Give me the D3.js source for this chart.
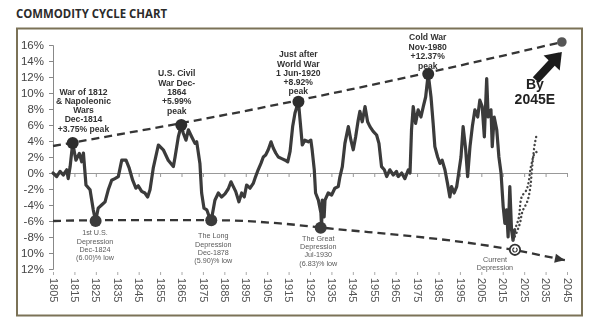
<!DOCTYPE html>
<html><head><meta charset="utf-8">
<script src="https://cdn.jsdelivr.net/npm/d3@7/dist/d3.min.js"></script>
<style>
html,body{margin:0;padding:0;background:#fff;}
svg{display:block;}
</style></head>
<body>
<svg id="chart" width="600" height="330"></svg>
<script>
// ---------------- DATA ----------------
const title = "COMMODITY CYCLE CHART";
const yTickValues = [-12,-10,-8,-6,-4,-2,0,2,4,6,8,10,12,14,16];
const yTickLabels = ["12%","10%","-8%","-6%","-4%","-2%","0%","2%","4%","6%","8%","10%","12%","14%","16%"];
const xTickYears = [1805,1815,1825,1835,1845,1855,1865,1875,1885,1895,1905,1915,1925,1935,1945,1955,1965,1975,1985,1995,2005,2015,2025,2035,2045];

const years = [1805.0,1806.7,1808.3,1809.8,1811.4,1812.1,1813.0,1814.2,1815.7,1817.3,1818.4,1819.2,1820.4,1822.3,1823.8,1824.9,1826.1,1827.7,1829.3,1830.8,1832.4,1833.9,1835.5,1837.1,1839.1,1840.6,1842.2,1843.7,1844.8,1846.4,1847.9,1849.2,1850.3,1851.8,1854.2,1856.5,1858.8,1861.2,1862.0,1863.5,1864.9,1865.8,1867.1,1868.2,1869.8,1871.3,1872.1,1873.6,1874.4,1875.5,1876.8,1878.0,1878.9,1879.8,1880.6,1882.2,1883.7,1885.3,1886.8,1888.1,1889.2,1890.3,1891.8,1893.1,1894.3,1895.4,1897.0,1898.5,1899.6,1900.8,1902.1,1903.2,1904.3,1905.5,1906.8,1907.9,1909.0,1910.2,1911.8,1913.4,1914.6,1915.7,1916.9,1918.0,1919.6,1920.3,1921.4,1922.6,1924.2,1925.4,1926.0,1927.0,1927.6,1928.9,1930.1,1930.4,1930.7,1931.6,1932.0,1933.5,1935.1,1936.6,1938.2,1939.0,1940.1,1941.3,1942.9,1944.1,1945.2,1946.3,1947.5,1948.3,1949.4,1950.7,1951.9,1953.0,1954.5,1956.1,1957.2,1958.4,1959.7,1960.8,1962.3,1963.9,1965.4,1966.2,1967.8,1969.3,1970.9,1971.7,1972.4,1973.2,1974.3,1975.5,1976.8,1977.9,1979.0,1980.2,1981.5,1982.5,1983.3,1984.6,1985.7,1986.7,1988.0,1989.2,1990.3,1991.1,1992.3,1993.5,1994.2,1995.5,1996.5,1997.7,1998.6,1999.7,2000.8,2002.0,2003.3,2004.3,2005.4,2006.4,2007.5,2008.2,2009.5,2010.1,2011.0,2012.2,2013.2,2014.2,2015.2,2016.0,2016.8,2017.5,2018.3,2019.1,2019.8,2020.6];
const values = [0.0,-0.45,0.2,-0.25,0.4,-0.7,0.8,3.75,1.6,2.45,1.4,2.5,-1.5,-2.1,-4.6,-6.0,-4.4,-4.0,-3.6,-2.1,-0.9,-0.7,-0.45,1.6,1.6,0.6,-0.9,-1.9,-1.6,-2.3,-2.5,-3.0,-2.1,0.6,3.5,2.9,1.6,0.8,2.0,4.5,5.99,5.0,4.1,5.4,4.5,3.7,3.9,1.2,-2.5,-4.4,-4.6,-5.5,-5.9,-4.6,-3.4,-2.5,-3.0,-2.6,-2.0,-1.1,-1.7,-2.3,-3.6,-2.5,-3.0,-1.5,-1.9,-1.3,-0.45,0.4,1.2,2.0,2.25,2.9,3.9,3.1,2.5,2.0,1.8,1.6,1.4,2.7,5.8,7.5,8.92,6.8,3.5,4.1,3.9,4.1,2.9,0.4,-2.5,-3.4,-5.0,-6.83,-3.4,-5.5,-3.4,-2.5,-2.75,-1.9,-1.7,-0.45,0.8,3.7,5.8,4.1,2.9,4.5,6.6,7.7,6.4,8.3,6.4,5.8,5.2,4.75,3.7,0.8,0.4,-0.45,0.4,-0.25,0.2,-0.45,0.0,-0.7,0.4,0.0,5.4,8.3,6.2,7.9,7.0,8.3,9.5,12.37,9.5,6.2,3.3,2.0,1.2,1.6,0.4,-1.3,-3.0,-1.7,-2.5,-1.7,-0.45,2.0,5.8,2.9,-0.45,3.3,5.8,7.9,7.0,9.1,8.3,4.5,11.8,7.0,7.9,3.3,7.0,5.4,2.0,0.0,-4.2,-6.3,-4.6,-8.0,-1.7,-7.1,-8.4,-7.1];

// projected (dotted) paths
const projAYears = [2019.8,2021.4,2023.0,2024.5,2026.1,2027.7,2028.5,2029.2,2030.0,2030.8];
const projAValues = [-8.4,-7.5,-6.3,-4.6,-3.8,-2.1,0.0,2.0,3.7,4.75];
const projBYears = [2020.6,2022.2,2023.8,2026.1,2028.5,2030.0,2031.6];
const projBValues = [-7.1,-5.9,-3.0,-2.1,1.2,2.5,2.7];

// trend (dashed) lines
const upperYears = [1805,1892.3,1981,2042.6];
const upperValues = [3.375,7.625,12.6,16.375];
const lowerYears = [1805,1826.9,1879.2,1911,1929.6,2019.7,2044];
const lowerValues = [-6.0,-5.9,-5.9,-6.3,-6.8,-9.6,-10.9];

// peaks and lows
const peakYears = [1814.2,1864.9,1919.6,1980.2];
const peakValues = [3.75,5.99,8.92,12.37];
const peakLabels = [
  ["War of 1812","& Napoleonic","Wars","Dec-1814","+3.75% peak"],
  ["U.S. Civil","War Dec-","1864","+5.99%","peak"],
  ["Just after","World War","1 Jun-1920","+8.92%","peak"],
  ["Cold War","Nov-1980","+12.37%","peak"]
];
const lowYears = [1824.9,1878.9,1930.0];
const lowValues = [-6.0,-5.9,-6.83];
const lowLabels = [
  ["1st U.S.","Depression","Dec-1824","(6.00)% low"],
  ["The Long","Depression","Dec-1878","(5.90)% low"],
  ["The Great","Depression","Jul-1930","(6.83)% low"]
];
const currentYear = [2020.7];
const currentValue = [-9.6];
const currentLabel = ["Current","Depression"];
const targetYear = [2042.6];
const targetValue = [16.375];
const targetLabel = ["By","2045E"];

// ---------------- CHART ----------------
const svg = d3.select("#chart");
const x = d3.scaleLinear().domain([1805,2045]).range([53,567]);
const y = d3.scaleLinear().domain([-12,16]).range([269,45]);
const dark = "#353535";

svg.append("rect").attr("width",600).attr("height",330).attr("fill","#fff");

// title
svg.append("text").attr("x",16).attr("y",17.5)
  .attr("font-family","'Open Sans', 'DejaVu Sans', sans-serif")
  .attr("font-weight","bold").attr("font-size",12)
  .attr("textLength",151).attr("lengthAdjust","spacingAndGlyphs")
  .attr("fill","#2b2b2b").text(title);

// frame
svg.append("rect").attr("x",17).attr("y",28.5).attr("width",565).attr("height",287)
  .attr("fill","none").attr("stroke","#7b7257").attr("stroke-width",2);

const g = svg.append("g").attr("filter","url(#soft)");
const defs = svg.append("defs");
defs.append("filter").attr("id","soft").append("feGaussianBlur").attr("stdDeviation",0.35);

// y axis
const yAxis = d3.axisLeft(y).tickValues(yTickValues)
  .tickFormat((d,i)=>yTickLabels[i]).tickSize(4).tickPadding(5);
const ya = g.append("g").attr("transform","translate(53,0)").call(yAxis);
ya.select(".domain").attr("stroke","#888");
ya.selectAll(".tick line").attr("stroke","#888");
ya.selectAll("text").attr("font-family","'Liberation Sans', Arial, sans-serif")
  .attr("font-size",11.5).attr("fill","#444");

// zero axis with ticks
const xAxis0 = d3.axisBottom(x).tickValues(xTickYears).tickSize(4).tickFormat("");
const xa0 = g.append("g").attr("transform",`translate(0,${y(0)})`).call(xAxis0);
xa0.select(".domain").attr("stroke","#999");
xa0.selectAll(".tick line").attr("stroke","#999");

// bottom labels
const xAxisB = d3.axisBottom(x).tickValues(xTickYears).tickSize(3).tickFormat(d3.format("d"));
const xb = g.append("g").attr("transform",`translate(0,${y(-12)+3})`).call(xAxisB);
xb.select(".domain").remove();
xb.selectAll(".tick line").attr("stroke","#aaa");
xb.selectAll("text").attr("font-family","'Liberation Sans', Arial, sans-serif")
  .attr("font-size",11).attr("fill","#555")
  .attr("transform","rotate(90)").attr("text-anchor","start")
  .attr("x",6).attr("y",0).attr("dy","0.35em");

// dashed trends
const trendLine = d3.line().x(d=>x(d[0])).y(d=>y(d[1])).curve(d3.curveMonotoneX);
g.append("path").datum(upperYears.map((d,i)=>[d,upperValues[i]]))
  .attr("d",trendLine).attr("fill","none").attr("stroke",dark)
  .attr("stroke-width",2.3).attr("stroke-dasharray","8,5");
g.append("path").datum(lowerYears.map((d,i)=>[d,lowerValues[i]]))
  .attr("d",trendLine).attr("fill","none").attr("stroke",dark)
  .attr("stroke-width",2.3).attr("stroke-dasharray","8,5");

// lower arrowhead
{
  const n = lowerYears.length;
  const x1 = x(lowerYears[n-2]), y1 = y(lowerValues[n-2]);
  const x2 = x(lowerYears[n-1]), y2 = y(lowerValues[n-1]);
  const ang = Math.atan2(y2-y1,x2-x1)*180/Math.PI;
  g.append("path").attr("d","M0,0 L-10,-4.5 L-10,4.5 Z").attr("fill",dark)
    .attr("transform",`translate(${x2},${y2}) rotate(${ang})`);
}

// main series
const line = d3.line().x(d=>x(d[0])).y(d=>y(d[1]));
g.append("path").datum(years.map((d,i)=>[d,values[i]]))
  .attr("d",line).attr("fill","none").attr("stroke","#3a3a3a")
  .attr("stroke-width",3.2).attr("stroke-linejoin","round").attr("stroke-linecap","round");

// projections
[[projAYears,projAValues],[projBYears,projBValues]].forEach(([ys,vs])=>{
  g.append("path").datum(ys.map((d,i)=>[d,vs[i]]))
    .attr("d",d3.line().x(d=>x(d[0])).y(d=>y(d[1])).curve(d3.curveMonotoneY))
    .attr("fill","none").attr("stroke","#444").attr("stroke-width",2.4)
    .attr("stroke-linecap","round").attr("stroke-dasharray","0.1,4");
});

// peak markers & labels
g.selectAll(".peak").data(peakYears).enter().append("circle")
  .attr("cx",(d)=>x(d)).attr("cy",(d,i)=>y(peakValues[i])).attr("r",6)
  .attr("fill","#2e2e2e");
g.selectAll(".low").data(lowYears).enter().append("circle")
  .attr("cx",(d)=>x(d)).attr("cy",(d,i)=>y(lowValues[i])).attr("r",6)
  .attr("fill","#3a3a3a");

const peakLabelY = [[91.7,9.2],[73.3,9.3],[54.3,9.2],[37.3,9.5]];
const peakLabelX = [83.5,176.7,298.3,427.7];
peakLabels.forEach((lines,i)=>{
  const t = g.append("text").attr("text-anchor","middle")
    .attr("font-family","'Liberation Sans', Arial, sans-serif")
    .attr("font-weight","bold").attr("font-size",8.6).attr("fill","#333");
  lines.forEach((s,j)=>t.append("tspan").attr("x",peakLabelX[i])
    .attr("y",peakLabelY[i][0]+j*peakLabelY[i][1]+3).text(s));
});
const lowLabelX = [95,213.3,318.3];
const lowLabelY = [232.7,235.7,238.3];
lowLabels.forEach((lines,i)=>{
  const t = g.append("text").attr("text-anchor","middle")
    .attr("font-family","'Liberation Sans', Arial, sans-serif")
    .attr("font-size",7.2).attr("fill","#5a5a5a");
  lines.forEach((s,j)=>t.append("tspan").attr("x",lowLabelX[i])
    .attr("y",lowLabelY[i]+j*8.3+2.5).text(s));
});

// current depression marker
{
  const cx = x(currentYear[0]), cy = y(currentValue[0]);
  g.append("circle").attr("cx",cx).attr("cy",cy).attr("r",5.2)
    .attr("fill","#fff").attr("stroke","#333").attr("stroke-width",1.8);
  g.append("path").attr("d",d3.arc().innerRadius(1.6).outerRadius(2.8).startAngle(0.6).endAngle(Math.PI*2-0.3)())
    .attr("transform",`translate(${cx},${cy})`).attr("fill","#333");
  const t = g.append("text").attr("text-anchor","middle")
    .attr("font-family","'Liberation Sans', Arial, sans-serif")
    .attr("font-size",7.2).attr("fill","#5a5a5a");
  currentLabel.forEach((s,j)=>t.append("tspan").attr("x",cx-20).attr("y",cy+12+j*8).text(s));
}

// target marker, arrow and label
{
  const tx = x(targetYear[0]), ty = y(targetValue[0]);
  g.append("circle").attr("cx",tx).attr("cy",ty).attr("r",4.8).attr("fill","#555");
  // big arrow pointing to target
  const tipX = tx, tipY = ty + 10, tailX = tx - 26, tailY = ty + 38;
  const L = Math.hypot(tipX-tailX, tipY-tailY);
  const ang = Math.atan2(tipY-tailY, tipX-tailX)*180/Math.PI;
  const hw = 4.2, headW = 11, headL = 15;
  g.append("path").attr("d",`M0,${-hw} L${L-headL},${-hw} L${L-headL},${-headW} L${L},0 L${L-headL},${headW} L${L-headL},${hw} L0,${hw} Z`)
    .attr("fill","#1e1e1e").attr("transform",`translate(${tailX},${tailY}) rotate(${ang})`);
  const t = g.append("text").attr("text-anchor","middle")
    .attr("font-family","'Liberation Sans', Arial, sans-serif")
    .attr("font-weight","bold").attr("font-size",14).attr("fill","#222");
  t.append("tspan").attr("x",tx-27).attr("y",ty+47).text(targetLabel[0]);
  t.append("tspan").attr("x",tx-27).attr("y",ty+62).text(targetLabel[1]);
}
</script>
</body></html>
